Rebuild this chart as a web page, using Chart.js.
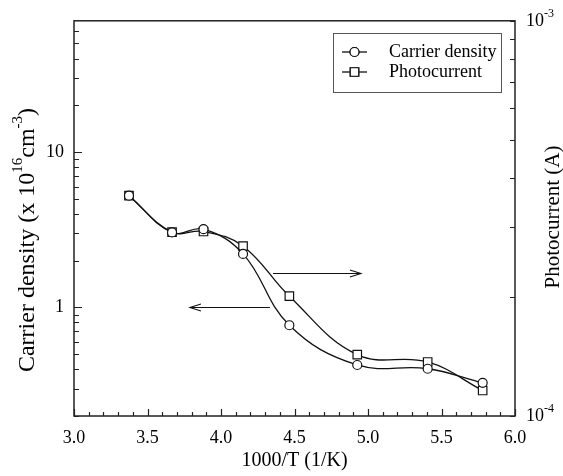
<!DOCTYPE html>
<html>
<head>
<meta charset="utf-8">
<script src="https://cdn.jsdelivr.net/npm/chart.js@4.4.0/dist/chart.umd.min.js"></script>
<style>
  html, body { margin: 0; padding: 0; background: #fff; }
</style>
</head>
<body>
<canvas id="chart" width="563" height="476"></canvas>
<script>
/* Carrier density & photocurrent vs 1000/T */

var INV_T      = [3.374, 3.667, 3.881, 4.150, 4.465, 4.927, 5.406, 5.780];
var CARRIER    = [5.24, 3.04, 3.19, 2.21, 0.768, 0.426, 0.403, 0.327];     // x 10^16 cm^-3
var PHOTO      = [3.61e-4, 2.92e-4, 2.93e-4, 2.69e-4, 2.01e-4, 1.43e-4, 1.37e-4, 1.16e-4]; // A

var X_LABELS   = ['3.0', '3.5', '4.0', '4.5', '5.0', '5.5', '6.0'];
var X_MINOR    = 0.1;
var Y_TICKS    = [0.2, 0.3, 0.4, 0.5, 0.6, 0.7, 0.8, 0.9, 1, 2, 3, 4, 5, 6, 7, 8, 9, 10, 20, 30, 40, 50, 60];
var Y_LABELS   = [1, 10];
var Y1_TICKS   = [1e-4, 2e-4, 3e-4, 4e-4, 5e-4, 6e-4, 7e-4, 8e-4, 9e-4, 1e-3];
var Y1_LABELS  = [{ v: 1e-4, exp: '-4' }, { v: 1e-3, exp: '-3' }];

// arrows: [x from, x to, y value, axis]
var ARROWS = [
    { x0: 4.354, x1: 4.952, y: 2.30e-4, axis: 'y1' },
    { x0: 4.333, x1: 3.789, y: 1.0,     axis: 'y'  }
];

var SERIF = "'Liberation Serif', 'Times New Roman', serif";
var INK   = '#111';

function isLabelX(v) {
    return X_LABELS.indexOf(v.toFixed(1)) >= 0 && Math.abs(v * 2 - Math.round(v * 2)) < 1e-6;
}

function drawArrow(ctx, x0, y0, x1, y1) {
    var dir = x1 > x0 ? 1 : -1;
    ctx.beginPath();
    ctx.moveTo(x0, y0); ctx.lineTo(x1, y1);
    ctx.moveTo(x1 - dir * 11, y1 - 3.5); ctx.lineTo(x1, y1); ctx.lineTo(x1 - dir * 11, y1 + 3.5);
    ctx.stroke();
}

var framePlugin = {
    id: 'frame',
    afterDraw: function(chart) {
        var ctx = chart.ctx;
        var a = chart.chartArea;
        var sx = chart.scales.x, sy = chart.scales.y, sy1 = chart.scales.y1;

        ctx.save();
        ctx.strokeStyle = '#222';
        ctx.lineWidth = 1.5;
        ctx.strokeRect(a.left, a.top, a.right - a.left, a.bottom - a.top);

        // inward ticks
        ctx.lineWidth = 1.2;
        ctx.beginPath();
        sx.ticks.forEach(function(t) {
            var px = Math.round(sx.getPixelForValue(t.value)) + 0.5;
            var len = isLabelX(t.value) ? 7 : 4;
            ctx.moveTo(px, a.bottom); ctx.lineTo(px, a.bottom - len);
        });
        sy.ticks.forEach(function(t) {
            var py = Math.round(sy.getPixelForValue(t.value)) + 0.5;
            var len = Y_LABELS.indexOf(t.value) >= 0 ? 8 : 5;
            ctx.moveTo(a.left, py); ctx.lineTo(a.left + len, py);
        });
        sy1.ticks.forEach(function(t) {
            var py = Math.round(sy1.getPixelForValue(t.value)) + 0.5;
            ctx.moveTo(a.right, py); ctx.lineTo(a.right - 5, py);
        });
        ctx.stroke();

        // right axis labels with superscripts
        ctx.fillStyle = '#000';
        ctx.textBaseline = 'middle';
        ctx.textAlign = 'left';
        Y1_LABELS.forEach(function(l) {
            var py = sy1.getPixelForValue(l.v);
            ctx.font = '18px ' + SERIF;
            ctx.fillText('10', a.right + 11, py);
            var w = ctx.measureText('10').width;
            ctx.font = '12px ' + SERIF;
            ctx.fillText(l.exp, a.right + 11 + w, py - 7);
        });

        // arrows
        ctx.strokeStyle = INK;
        ctx.lineWidth = 1.1;
        ARROWS.forEach(function(ar) {
            var sc = chart.scales[ar.axis];
            var py = Math.round(sc.getPixelForValue(ar.y)) + 0.5;
            drawArrow(ctx, sx.getPixelForValue(ar.x0), py, sx.getPixelForValue(ar.x1), py);
        });

        // legend box
        ctx.strokeStyle = '#555';
        ctx.lineWidth = 1;
        ctx.strokeRect(333.5, 33.5, 168, 59);
        var rows = [{ label: 'Carrier density', style: 'circle', r: 4.5, y: 52 },
                    { label: 'Photocurrent',    style: 'rect',   r: 6,   y: 72 }];
        rows.forEach(function(row) {
            ctx.strokeStyle = INK;
            ctx.lineWidth = 1.3;
            ctx.beginPath(); ctx.moveTo(342, row.y); ctx.lineTo(367, row.y); ctx.stroke();
            ctx.fillStyle = '#fff';
            ctx.lineWidth = 1.2;
            Chart.helpers.drawPoint(ctx, { pointStyle: row.style, radius: row.r, borderWidth: 1.2 }, 354.5, row.y);
            ctx.fill(); ctx.stroke();
            ctx.fillStyle = '#000';
            ctx.font = '18px ' + SERIF;
            ctx.fillText(row.label, 389, row.y);
        });

        // left title with superscripts
        var runs = [{ t: 'Carrier density (x 10', sup: false }, { t: '16', sup: true },
                    { t: 'cm', sup: false }, { t: '-3', sup: true }, { t: ')', sup: false }];
        ctx.save();
        ctx.translate(28, 240);
        ctx.rotate(-Math.PI / 2);
        var total = 0;
        runs.forEach(function(r) {
            ctx.font = (r.sup ? '15px ' : '24px ') + SERIF;
            r.w = ctx.measureText(r.t).width;
            total += r.w;
        });
        var x = -total / 2;
        runs.forEach(function(r) {
            ctx.font = (r.sup ? '15px ' : '24px ') + SERIF;
            ctx.fillText(r.t, x, r.sup ? -10 : 0);
            x += r.w;
        });
        ctx.restore();

        // right title
        ctx.save();
        ctx.translate(553, 217);
        ctx.rotate(-Math.PI / 2);
        ctx.textAlign = 'center';
        ctx.font = '21px ' + SERIF;
        ctx.fillText('Photocurrent (A)', 0, 0);
        ctx.restore();

        ctx.restore();
    }
};

function pts(ys) {
    return INV_T.map(function(x, i) { return { x: x, y: ys[i] }; });
}

new Chart(document.getElementById('chart'), {
    type: 'line',
    data: {
        datasets: [
            {
                label: 'Carrier density', data: pts(CARRIER), yAxisID: 'y',
                borderColor: INK, borderWidth: 1.3, tension: 0.4, fill: false,
                pointStyle: 'circle', pointRadius: 4.5, pointBorderWidth: 1.2,
                pointBackgroundColor: '#fff', pointBorderColor: INK
            },
            {
                label: 'Photocurrent', data: pts(PHOTO), yAxisID: 'y1',
                borderColor: INK, borderWidth: 1.3, tension: 0.4, fill: false,
                pointStyle: 'rect', pointRadius: 6, pointBorderWidth: 1.2,
                pointBackgroundColor: '#fff', pointBorderColor: INK
            }
        ]
    },
    options: {
        responsive: false,
        animation: false,
        devicePixelRatio: 1,
        layout: { padding: { top: 16, left: 0, right: 0, bottom: 0 } },
        plugins: { legend: { display: false }, tooltip: { enabled: false } },
        scales: {
            x: {
                type: 'linear', position: 'bottom', min: 3, max: 6,
                grid: { display: false, drawTicks: false },
                border: { display: false },
                afterBuildTicks: function(s) {
                    var t = [];
                    for (var v = 3; v <= 6.0001; v += X_MINOR) t.push({ value: Math.round(v * 10) / 10 });
                    s.ticks = t;
                },
                ticks: {
                    autoSkip: false, maxRotation: 0, padding: 11, color: '#000',
                    font: { family: SERIF, size: 18 },
                    callback: function(v) { return isLabelX(v) ? v.toFixed(1) : ''; }
                },
                title: {
                    display: true, text: '1000/T (1/K)', color: '#000',
                    font: { family: SERIF, size: 20 }, padding: { top: 0, bottom: 3 }
                },
                afterFit: function(s) { s.height = 60; }
            },
            y: {
                type: 'logarithmic', position: 'left', min: 0.2, max: 70,
                grid: { display: false, drawTicks: false },
                border: { display: false },
                afterBuildTicks: function(s) { s.ticks = Y_TICKS.map(function(v) { return { value: v }; }); },
                ticks: {
                    autoSkip: false, padding: 10, color: '#000',
                    font: { family: SERIF, size: 18 },
                    callback: function(v) { return Y_LABELS.indexOf(v) >= 0 ? String(v) : ''; }
                },
                afterFit: function(s) { s.width = 74; }
            },
            y1: {
                type: 'logarithmic', position: 'right', min: 1e-4, max: 1e-3,
                grid: { display: false, drawTicks: false },
                border: { display: false },
                afterBuildTicks: function(s) { s.ticks = Y1_TICKS.map(function(v) { return { value: v }; }); },
                ticks: { display: false },
                afterFit: function(s) { s.width = 48; }
            }
        }
    },
    plugins: [framePlugin]
});
</script>
</body>
</html>
